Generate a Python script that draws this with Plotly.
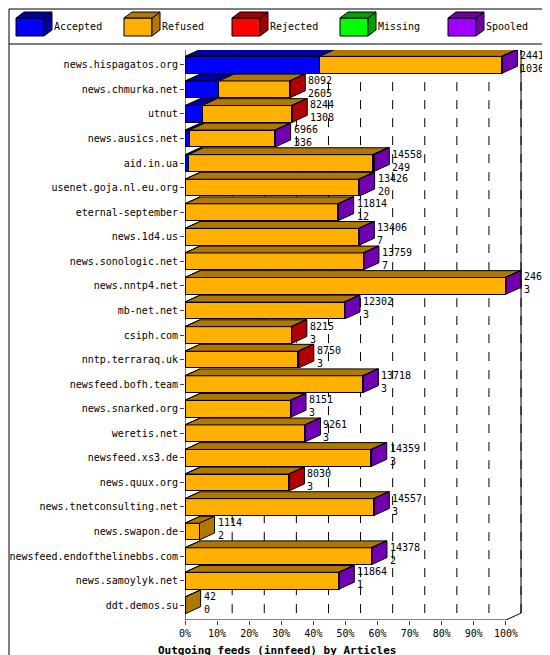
import plotly.graph_objects as go

hosts = ["news.hispagatos.org", "news.chmurka.net", "utnut", "news.ausics.net", "aid.in.ua",
         "usenet.goja.nl.eu.org", "eternal-september", "news.1d4.us", "news.sonologic.net",
         "news.nntp4.net", "mb-net.net", "csiph.com", "nntp.terraraq.uk", "newsfeed.bofh.team",
         "news.snarked.org", "weretis.net", "newsfeed.xs3.de", "news.quux.org",
         "news.tnetconsulting.net", "news.swapon.de", "newsfeed.endofthelinebbs.com",
         "news.samoylyk.net", "ddt.demos.su"]
offered = [24419, 8092, 8244, 6966, 14558, 13426, 11814, 13406, 13759, 24692, 12302, 8215,
           8750, 13718, 8151, 9261, 14359, 8030, 14557, 1114, 14378, 11864, 42]
accepted = [10364, 2605, 1308, 336, 249, 20, 12, 7, 7, 3, 3, 3, 3, 3, 3, 3, 3, 3, 3, 2, 2, 1, 0]
rejected = [0, 60, 60, 0, 60, 0, 0, 0, 0, 0, 0, 60, 60, 0, 0, 0, 0, 60, 0, 0, 0, 0, 0]
spooled = [60, 0, 0, 60, 60, 80, 60, 60, 60, 60, 60, 0, 0, 60, 60, 60, 60, 0, 60, 0, 60, 60, 0]
refused = [o - a - r - s for o, a, r, s in zip(offered, accepted, rejected, spooled)]

series = [("Accepted", accepted, "#0000ff", "#0000a0"),
          ("Refused", refused, "#ffb000", "#b07800"),
          ("Rejected", rejected, "#ff0000", "#a00000"),
          ("Missing", [0] * len(hosts), "#00ff00", "#00a000"),
          ("Spooled", spooled, "#a000ff", "#7000a0")]

top = max(offered)
n = len(hosts)
ypos = [n - 1 - i for i in range(n)]
dx, dy, h = 4.7, 0.28, 0.34
font = "DejaVu Sans Mono, monospace"
PW, PH = 337, 570  # plot area size in px, used for paper coordinates

def px(x):
    return (x - 177) / PW

def py(y):
    return (612 - y) / PH

fig = go.Figure()
shapes = []
for name, vals, col, dark in series:
    pct = [v / top * 100 for v in vals]
    fig.add_trace(go.Bar(y=ypos, x=pct, orientation="h", name=name, width=2 * h,
                         marker=dict(color=col, line=dict(color="black", width=1))))

# 3D top faces and end caps, computed from the data
for i in range(n):
    start = 0
    last_dark = "#b07800"
    for name, vals, col, dark in series:
        w = vals[i] / top * 100
        if w <= 0:
            continue
        yt = ypos[i] + h
        shapes.append(dict(type="path", fillcolor=dark, line=dict(color="black", width=1),
                           path=f"M{start},{yt} L{start + w},{yt} L{start + w + dx},{yt + dy} "
                                f"L{start + dx},{yt + dy} Z"))
        start += w
        last_dark = {"Rejected": "#b00000", "Spooled": "#7000b0"}.get(name, dark)
    yb = ypos[i] - h
    shapes.append(dict(type="path", fillcolor=last_dark, line=dict(color="black", width=1),
                       path=f"M{start},{yb} L{start + dx},{yb + dy} L{start + dx},{ypos[i] + h + dy} "
                            f"L{start},{ypos[i] + h} Z"))
    fig.add_annotation(x=start + dx + 0.3, y=ypos[i] + 0.1, xanchor="left", yanchor="middle",
                       text=f"{offered[i]}<br>{accepted[i]}", showarrow=False, align="left",
                       font=dict(family=font, size=10, color="black"))

for k in range(1, 11):
    shapes.append(dict(type="line", x0=k * 10 + dx, x1=k * 10 + dx, y0=-0.6 + dy, y1=n - 0.4,
                       line=dict(color="black", width=1, dash="dash"), layer="below"))
shapes.append(dict(type="line", x0=100 + dx, x1=100 + dx, y0=-0.6 + dy, y1=n - 0.4,
                   line=dict(color="black", width=1)))
shapes.append(dict(type="line", x0=0, x1=100, y0=-0.6, y1=-0.6, line=dict(color="black", width=1)))
shapes.append(dict(type="line", x0=100, x1=100 + dx, y0=-0.6, y1=-0.6 + dy,
                   line=dict(color="black", width=1)))
shapes.append(dict(type="line", x0=0, x1=0, y0=-0.6, y1=n - 0.4, line=dict(color="black", width=1)))
# outer frame and legend separator
shapes.append(dict(type="rect", xref="paper", yref="paper", x0=px(1), x1=px(549),
                   y0=py(654), y1=py(1), line=dict(color="black", width=1)))
shapes.append(dict(type="line", xref="paper", yref="paper", x0=px(1), x1=px(549),
                   y0=py(36), y1=py(36), line=dict(color="black", width=1)))

# hand-drawn legend
for j, (name, vals, col, dark) in enumerate(series):
    x0 = 8 + j * 108
    shapes.append(dict(type="rect", xref="paper", yref="paper", x0=px(x0), x1=px(x0 + 28),
                       y0=py(28), y1=py(10), fillcolor=col, line=dict(color="black", width=1)))
    shapes.append(dict(type="path", xref="paper", yref="paper", fillcolor=dark,
                       line=dict(color="black", width=1),
                       path=f"M{px(x0 + 28)},{py(28)} L{px(x0 + 36)},{py(22)} L{px(x0 + 36)},{py(4)} "
                            f"L{px(x0 + 28)},{py(10)} Z"))
    shapes.append(dict(type="path", xref="paper", yref="paper", fillcolor=dark,
                       line=dict(color="black", width=1),
                       path=f"M{px(x0)},{py(10)} L{px(x0 + 8)},{py(4)} L{px(x0 + 36)},{py(4)} "
                            f"L{px(x0 + 28)},{py(10)} Z"))
    fig.add_annotation(xref="paper", yref="paper", x=px(x0 + 36), y=py(18), xanchor="left",
                       yanchor="middle", showarrow=False, text=name, font=dict(size=10))

fig.update_layout(
    width=550, height=655, barmode="stack",
    margin=dict(l=177, r=36, t=42, b=43, autoexpand=False),
    plot_bgcolor="white", paper_bgcolor="white",
    font=dict(family=font, size=10, color="black"),
    shapes=shapes,
    showlegend=False,
    xaxis=dict(range=[0, 105], tickvals=[k * 10 for k in range(11)],
               ticktext=[f"{k * 10}%" for k in range(11)], showgrid=False, zeroline=False,
               ticks="outside", ticklen=4, automargin=False),
    yaxis=dict(range=[-0.6, n - 0.4], tickvals=ypos, ticktext=hosts, showgrid=False,
               zeroline=False, ticks="outside", ticklen=4, automargin=False),
)
fig.add_annotation(xref="paper", yref="paper", x=px(148), y=py(642), xanchor="left",
                   yanchor="middle", showarrow=False,
                   text="<b>Outgoing feeds (innfeed) by Articles</b>", font=dict(size=11))
fig.write_html("out.html")
